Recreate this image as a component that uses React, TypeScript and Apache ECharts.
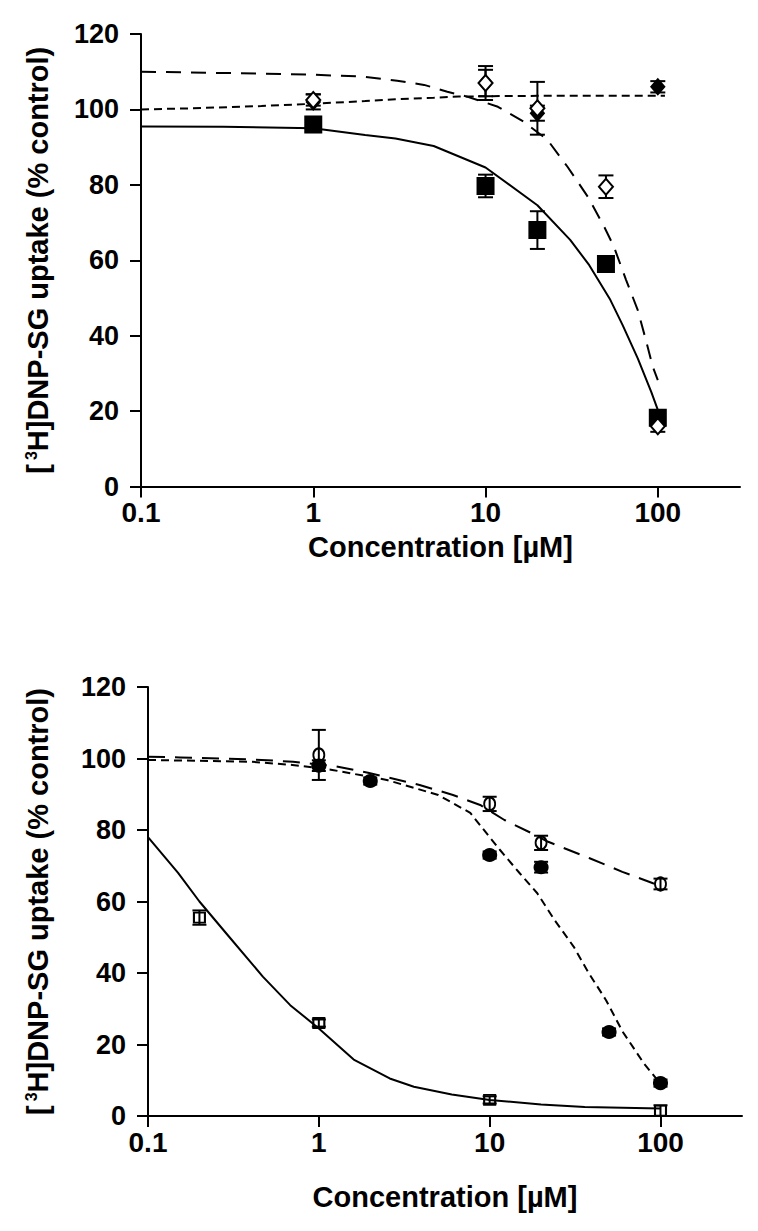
import React, { useEffect, useRef } from 'react';
import * as echarts from 'echarts';

// ---------- shared axis ticks ----------
const xTickValues = [0.1, 1, 10, 100];
const yMin = 0;
const yMax = 120;
const yStep = 20;

// ---------- top panel: measured points ----------
const topSquareX = [1, 10, 20, 50, 100];
const topSquareY = [96, 79.7, 68, 59, 18.2];
const topSquareErr = [2, 3, 5, 1.5, 2];

const topOpenDiaX = [1, 10, 20, 50, 100];
const topOpenDiaY = [102.5, 107, 100.3, 79.5, 16];
const topOpenDiaErr = [1.5, 4.5, 7, 3, 1.5];

const topFilledDiaX = [1, 10, 20, 100];
const topFilledDiaY = [102, 107, 99, 106];
const topFilledDiaErr = [2, 3.5, 2, 1.5];

// ---------- top panel: fitted curves ----------
const topSolidX = [0.1, 0.3, 1, 2, 3, 5, 10, 20, 31, 40, 53, 62.5, 76.5, 91.6, 100];
const topSolidY = [95.5, 95.4, 95, 93.2, 92.3, 90.3, 84.6, 74.6, 65.4, 58.7, 49.5, 42.8, 34, 25.1, 20.3];

const topLongX = [0.1, 0.5, 1, 1.95, 3.07, 4.4, 6, 7.8, 11.8, 16.7, 22.9, 29.9, 39.3, 48.8, 55.6, 65.4, 76.5, 85.3, 93.4, 100];
const topLongY = [110, 109.5, 109.2, 108.7, 107.6, 106.5, 104.7, 103.4, 100.7, 96.7, 91.9, 84.8, 76.8, 68.9, 63.6, 54.8, 46.8, 38.8, 31.8, 28.2];

const topShortX = [0.1, 0.2, 0.5, 1, 2, 3, 5, 7, 10, 20, 50, 110];
const topShortY = [100, 100.3, 100.9, 101.5, 102.2, 102.7, 103.1, 103.4, 103.5, 103.6, 103.6, 103.6];

// ---------- bottom panel: measured points ----------
const botOpenSqX = [0.2, 1, 10, 100];
const botOpenSqY = [55.5, 26, 4.5, 1.5];
const botOpenSqErr = [2, 1, 1, 1.5];

const botOpenCircX = [1, 10, 20, 100];
const botOpenCircY = [101, 87.3, 76.4, 64.9];
const botOpenCircErr = [7, 2, 2, 1.5];

const botFilledCircX = [1, 2, 10, 20, 50, 100];
const botFilledCircY = [98, 93.7, 73, 69.6, 23.5, 9.2];
const botFilledCircErr = [1.5, 1, 1, 1.5, 1, 1];

// ---------- bottom panel: fitted curves ----------
const botSolidX = [0.1, 0.15, 0.2, 0.3, 0.47, 0.68, 1, 1.6, 2.6, 3.6, 6, 10, 20, 36, 100];
const botSolidY = [78, 68, 60, 50, 39, 31, 24.5, 15.8, 10.5, 8.2, 6, 4.5, 3.2, 2.5, 2.1];

const botLongX = [0.1, 0.154, 0.387, 0.706, 1.23, 1.94, 3.89, 6.1, 8.8, 12.2, 18.5, 22, 38.5, 59.8, 90.4, 100];
const botLongY = [100.5, 100.3, 99.8, 99.1, 97.9, 96, 92.6, 89.8, 87, 82.8, 78.6, 76.7, 72.1, 68.3, 65.1, 64.5];

const botShortX = [0.1, 0.4, 0.7, 1.2, 2.5, 5, 7.7, 10, 11.5, 15, 19, 24, 31, 38, 48, 60, 80, 100];
const botShortY = [99.6, 99.1, 98.2, 96.8, 94, 89.8, 84.8, 78, 74.4, 67.9, 62.3, 54.8, 47.4, 40, 32.4, 23.6, 14.7, 9];

const xAxisMin = 0.1;
const xAxisMax = 300;
const xTickMax = 100;

const FONT = '"Liberation Sans", Arial, Helvetica, sans-serif';
const BLACK = '#000';

const pairs = (xs: number[], ys: number[]) => xs.map((x, i) => [x, ys[i]]);
const errRows = (xs: number[], ys: number[], es: number[]) =>
  xs.map((x, i) => [x, ys[i], ys[i] - es[i], ys[i] + es[i]]);

function errorSeries(data: number[][], axisIdx: number, cap: number) {
  return {
    type: 'custom',
    xAxisIndex: axisIdx,
    yAxisIndex: axisIdx,
    z: 3,
    silent: true,
    encode: { x: 0, y: [1, 2, 3] },
    data,
    renderItem: (params: any, api: any) => {
      const x = api.value(0);
      const lo = api.coord([x, api.value(2)]);
      const hi = api.coord([x, api.value(3)]);
      const style = { stroke: BLACK, lineWidth: 2, fill: 'none' };
      return {
        type: 'group',
        children: [
          { type: 'line', shape: { x1: lo[0], y1: lo[1], x2: hi[0], y2: hi[1] }, style },
          { type: 'line', shape: { x1: lo[0] - cap, y1: lo[1], x2: lo[0] + cap, y2: lo[1] }, style },
          { type: 'line', shape: { x1: hi[0] - cap, y1: hi[1], x2: hi[0] + cap, y2: hi[1] }, style },
        ],
      };
    },
  };
}

function curveSeries(xs: number[], ys: number[], axisIdx: number, dash: any) {
  return {
    type: 'line',
    xAxisIndex: axisIdx,
    yAxisIndex: axisIdx,
    z: 2,
    symbol: 'none',
    showSymbol: false,
    silent: true,
    data: pairs(xs, ys),
    lineStyle: { color: BLACK, width: 2, type: dash },
  };
}

function markerSeries(
  xs: number[],
  ys: number[],
  axisIdx: number,
  symbol: string,
  size: any,
  fill: string,
  z: number
) {
  return {
    type: 'scatter',
    xAxisIndex: axisIdx,
    yAxisIndex: axisIdx,
    z,
    symbol,
    symbolSize: size,
    silent: true,
    data: pairs(xs, ys),
    itemStyle: { color: fill, borderColor: BLACK, borderWidth: 2, opacity: 1 },
  };
}

const TOTAL_DECADES = Math.log10(xAxisMax / xAxisMin);
const TICK_DECADES = Math.log10(xTickMax / xAxisMin);

const panels = [
  { left: 141, top: 34, width: 599, height: 452.5, yNameGap: 89, xNameGap: 47 },
  { left: 148, top: 687, width: 594, height: 429, yNameGap: 96, xNameGap: 68 },
];

const yName = '[{sup|3}H]DNP-SG uptake (% control)';

function buildOption() {
  const grids: any[] = [];
  const xAxes: any[] = [];
  const yAxes: any[] = [];
  panels.forEach((p, k) => {
    grids.push({ left: p.left, top: p.top, width: p.width, height: p.height, containLabel: false });
    grids.push({
      left: p.left,
      top: p.top,
      width: (p.width * TICK_DECADES) / TOTAL_DECADES,
      height: p.height,
      containLabel: false,
    });
    xAxes.push({
      type: 'log',
      logBase: 10,
      gridIndex: 2 * k,
      min: xAxisMin,
      max: xAxisMax,
      axisLine: { show: true, onZero: false, lineStyle: { color: BLACK, width: 2 } },
      axisTick: { show: false },
      axisLabel: { show: false },
      splitLine: { show: false },
      minorTick: { show: false },
      name: 'Concentration [µM]',
      nameLocation: 'middle',
      nameGap: p.xNameGap,
      nameTextStyle: { fontFamily: FONT, fontSize: 29, lineHeight: 26, fontWeight: 'bold', color: BLACK },
    });
    xAxes.push({
      type: 'log',
      logBase: 10,
      gridIndex: 2 * k + 1,
      min: xTickValues[0],
      max: xTickValues[xTickValues.length - 1],
      axisLine: { show: false },
      axisTick: { show: true, length: 11, lineStyle: { color: BLACK, width: 2 } },
      axisLabel: {
        show: true,
        margin: 14,
        lineHeight: 24,
        fontFamily: FONT,
        fontSize: 28,
        fontWeight: 'bold',
        color: BLACK,
        formatter: (v: number) => String(v),
      },
      splitLine: { show: false },
    });
    yAxes.push({
      type: 'value',
      gridIndex: 2 * k,
      min: yMin,
      max: yMax,
      interval: yStep,
      axisLine: { show: true, lineStyle: { color: BLACK, width: 2 } },
      axisTick: { show: true, length: 11, lineStyle: { color: BLACK, width: 2 } },
      axisLabel: { margin: 22, fontFamily: FONT, fontSize: 27, fontWeight: 'bold', color: BLACK },
      splitLine: { show: false },
      name: yName,
      nameLocation: 'middle',
      nameRotate: 90,
      nameGap: p.yNameGap,
      nameTextStyle: {
        fontFamily: FONT,
        fontSize: 29,
        fontWeight: 'bold',
        color: BLACK,
        rich: {
          sup: { fontFamily: FONT, fontSize: 16, fontWeight: 'bold', color: BLACK, verticalAlign: 'top', padding: [0, 0, 0, 4] },
        },
      },
    });
    yAxes.push({ type: 'value', gridIndex: 2 * k + 1, min: yMin, max: yMax, show: false });
  });

  const T = 0;
  const B = 2;

  const series: any[] = [
    // top panel
    curveSeries(topSolidX, topSolidY, T, 'solid'),
    curveSeries(topLongX, topLongY, T, [15, 10]),
    curveSeries(topShortX, topShortY, T, [8, 5]),
    errorSeries(errRows(topSquareX, topSquareY, topSquareErr), T, 7.5),
    errorSeries(errRows(topFilledDiaX, topFilledDiaY, topFilledDiaErr), T, 7.5),
    errorSeries(errRows(topOpenDiaX, topOpenDiaY, topOpenDiaErr), T, 7.5),
    markerSeries(topSquareX, topSquareY, T, 'rect', 16, BLACK, 4),
    markerSeries(topFilledDiaX, topFilledDiaY, T, 'diamond', [13, 15], BLACK, 5),
    markerSeries(topOpenDiaX, topOpenDiaY, T, 'diamond', [14, 16], '#fff', 6),
    // bottom panel
    curveSeries(botSolidX, botSolidY, B, 'solid'),
    curveSeries(botLongX, botLongY, B, [17, 10]),
    curveSeries(botShortX, botShortY, B, [8, 5]),
    markerSeries(botFilledCircX, botFilledCircY, B, 'circle', [13, 12], BLACK, 4),
    markerSeries(botOpenCircX, botOpenCircY, B, 'circle', [11, 13], 'rgba(0,0,0,0)', 5),
    markerSeries(botOpenSqX, botOpenSqY, B, 'rect', [11, 10], 'rgba(0,0,0,0)', 5),
    errorSeries(errRows(botFilledCircX, botFilledCircY, botFilledCircErr), B, 7),
    errorSeries(errRows(botOpenCircX, botOpenCircY, botOpenCircErr), B, 7),
    errorSeries(errRows(botOpenSqX, botOpenSqY, botOpenSqErr), B, 7),
  ];

  return {
    animation: false,
    backgroundColor: '#fff',
    grid: grids,
    xAxis: xAxes,
    yAxis: yAxes,
    series,
  };
}

export default function App() {
  const ref = useRef<HTMLDivElement>(null);
  useEffect(() => {
    if (!ref.current) return;
    const chart = echarts.init(ref.current, undefined, { renderer: 'svg' });
    chart.setOption(buildOption() as any);
    return () => chart.dispose();
  }, []);
  return (
    <div
      ref={ref}
      style={{ position: 'absolute', left: 0, top: 0, width: 758, height: 1231, background: '#fff' }}
    />
  );
}
